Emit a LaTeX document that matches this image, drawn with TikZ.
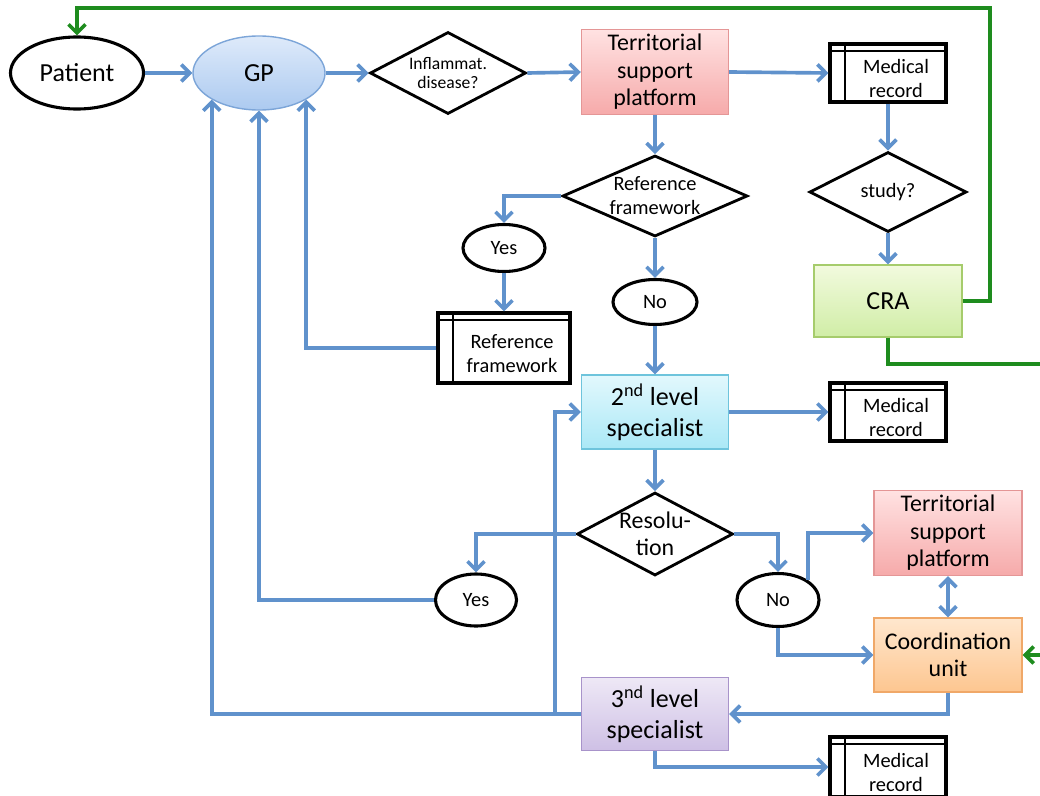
\documentclass[tikz,border=0pt]{standalone}
\usepackage{fontspec}
\setmainfont{Carlito}
\usepackage{tikz}
\usetikzlibrary{arrows.meta,shapes.geometric}
\definecolor{flowblue}{RGB}{96,146,204}
\definecolor{flowgreen}{RGB}{30,140,30}
\definecolor{gpline}{RGB}{124,165,216}
\definecolor{gptop}{RGB}{222,234,250}
\definecolor{gpbot}{RGB}{172,202,240}
\definecolor{redline}{RGB}{228,150,150}
\definecolor{redtop}{RGB}{255,226,226}
\definecolor{redbot}{RGB}{246,170,170}
\definecolor{cyanline}{RGB}{110,196,220}
\definecolor{cyantop}{RGB}{226,248,253}
\definecolor{cyanbot}{RGB}{170,232,246}
\definecolor{greenline}{RGB}{166,204,108}
\definecolor{greentop}{RGB}{242,250,222}
\definecolor{greenbot}{RGB}{208,237,166}
\definecolor{orangeline}{RGB}{240,168,104}
\definecolor{orangetop}{RGB}{255,231,206}
\definecolor{orangebot}{RGB}{253,198,144}
\definecolor{purpleline}{RGB}{168,147,202}
\definecolor{purpletop}{RGB}{238,232,246}
\definecolor{purplebot}{RGB}{206,192,229}
\newcommand{\recind}{\hspace*{0.4cm}}
\newcommand{\rectop}{\rule{0pt}{18.5pt}}

\begin{document}
\begin{tikzpicture}[x=0.025cm,y=-0.025cm,>={Straight Barb[length=6pt,width=12pt]}]
        \tikzstyle{every node}+=[inner sep=0pt, align=center]
        \tikzstyle{bigtxt}=[font=\fontsize{18.5}{22}\selectfont]
        \tikzstyle{midbig}=[font=\fontsize{17}{19.5}\selectfont]
        \tikzstyle{midtxt}=[font=\fontsize{14.5}{17}\selectfont]
        \tikzstyle{smalltxt}=[font=\fontsize{12.5}{14}\selectfont]
        \tikzstyle{term}=[ellipse, draw, line width=2.2pt]
        \tikzstyle{decide}=[diamond, draw, line width=2pt, inner sep=-3pt]
        \tikzstyle{proc}=[rectangle, draw, line width=1pt]
        \tikzstyle{record}=[rectangle, draw, line width=2.2pt, midtxt, minimum width=2.9cm, minimum height=1.45cm,
            path picture={
                \draw[line width=1.9pt] ([xshift=0.375cm]path picture bounding box.north west) -- ([xshift=0.375cm]path picture bounding box.south west);
                \draw[line width=1.9pt] ([yshift=-0.175cm]path picture bounding box.north west) -- ([yshift=-0.175cm]path picture bounding box.north east);
            }]
        \tikzstyle{link}=[draw=flowblue, line width=2.6pt, ->]
        \tikzstyle{back}=[draw=flowgreen, line width=2.6pt, ->]
        \useasboundingbox (0,0) rectangle (1040,796);
        \node[term, bigtxt, minimum width=3.325cm, minimum height=1.8cm] (patient) at (77,73) {Patient};
        \node[term, bigtxt, draw=gpline, line width=1pt, top color=gptop, bottom color=gpbot, minimum width=3.3cm, minimum height=1.85cm] (gp) at (259,73) {GP};
        \node[decide, smalltxt, aspect=1.9, minimum width=3.9cm, minimum height=2.05cm] (inflam) at (448,73) {Inflammat.\\disease?};
        \node[proc, midbig, draw=redline, top color=redtop, bottom color=redbot, minimum width=3.675cm, minimum height=2.125cm] (platform) at (655,72) {Territorial\\support\\platform};
        \node[record] (record1) at (888,73) {\rectop\recind Medical\\\recind record};
        \node[decide, midtxt, aspect=1.96, minimum width=3.925cm, minimum height=2cm] (study) at (888,192) {study?};
        \node[proc, bigtxt, draw=greenline, top color=greentop, bottom color=greenbot, minimum width=3.7cm, minimum height=1.8cm] (cra) at (888,301) {CRA};
        \node[decide, midtxt, aspect=2.28, minimum width=4.625cm, minimum height=2.025cm] (refdec) at (655,196) {Reference\\framework};
        \node[term, midtxt, minimum width=2.05cm, minimum height=1.175cm] (yesa) at (504,248) {Yes};
        \node[term, midtxt, minimum width=2.1cm, minimum height=1.125cm] (noa) at (655,302) {No};
        \node[record, minimum width=3.3cm, minimum height=1.75cm] (reframe) at (504,348) {\rectop\recind Reference\\\recind framework};
        \node[proc, bigtxt, draw=cyanline, top color=cyantop, bottom color=cyanbot, minimum width=3.675cm, minimum height=1.85cm] (second) at (655,412) {2\textsuperscript{nd} level\\specialist};
        \node[record] (record2) at (888,412) {\rectop\recind Medical\\\recind record};
        \node[decide, midbig, aspect=1.88, minimum width=3.9cm, minimum height=2.075cm] (resol) at (655,534) {Resolu-\\tion};
        \node[term, midtxt, minimum width=2.025cm, minimum height=1.3cm] (yesb) at (476,600) {Yes};
        \node[term, midtxt, minimum width=2.05cm, minimum height=1.325cm] (nob) at (778,600) {No};
        \node[proc, midbig, draw=redline, top color=redtop, bottom color=redbot, minimum width=3.7cm, minimum height=2.125cm] (platformb) at (948,533) {Territorial\\support\\platform};
        \node[proc, midbig, draw=orangeline, top color=orangetop, bottom color=orangebot, minimum width=3.7cm, minimum height=1.85cm] (coord) at (948,655) {Coordination\\unit};
        \node[proc, bigtxt, draw=purpleline, top color=purpletop, bottom color=purplebot, minimum width=3.675cm, minimum height=1.825cm] (third) at (655,714) {3\textsuperscript{nd} level\\specialist};
        \node[record, minimum height=1.5cm] (record3) at (888,767) {\rectop\recind Medical\\\recind record};
        \coordinate (topturn) at (990,8);
        \coordinate (sideturn) at (1070,364);
        \draw[link] (patient.east) -- (gp.west);
        \draw[link] (gp.east) -- (inflam.west);
        \draw[link] (inflam.east) -- (platform.west);
        \draw[link] (platform.east) -- (record1.west);
        \draw[link] (record1.south) -- (study.north);
        \draw[link] (study.south) -- (cra.north);
        \draw[link] (platform.south) -- (refdec.north);
        \draw[link] (refdec.west) -| (yesa.north);
        \draw[link] (yesa.south) -- (reframe.north);
        \draw[link] (reframe.west) -| (gp.south east);
        \draw[link] (refdec.south) -- (noa.north);
        \draw[link] (noa.south) -- (second.north);
        \draw[link] (second.east) -- (record2.west);
        \draw[link] (second.south) -- (resol.north);
        \draw[link] (resol.west) -| (yesb.north);
        \draw[link] (yesb.west) -| (gp.south);
        \draw[link] (resol.east) -| (nob.north);
        \draw[link] (nob.north east) |- (platformb.west);
        \draw[link] (nob.south) |- (coord.west);
        \draw[link, <->] (platformb.south) -- (coord.north);
        \draw[link] (coord.south) |- (third.east);
        \draw[link] (third.west) -| (gp.south west);
        \draw[link] (third.west) -- ++(-26,0) |- (second.west);
        \draw[link] (third.south) |- (record3.west);
        \draw[back] (cra.east) -| (topturn) -| (patient.north);
        \draw[back] (cra.south) |- (sideturn) |- (coord.east);
\end{tikzpicture}
\end{document}
